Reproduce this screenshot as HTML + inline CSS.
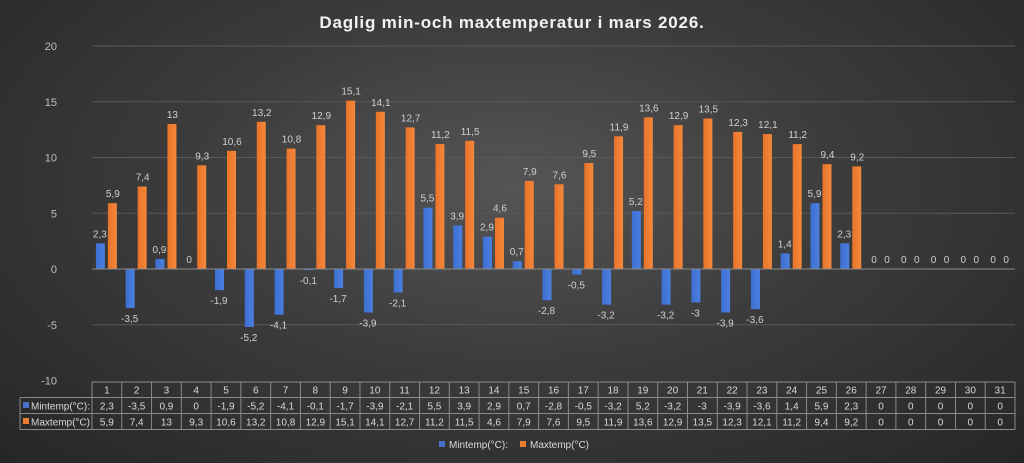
<!DOCTYPE html>
<html><head><meta charset="utf-8"><style>
html,body{margin:0;padding:0;width:1024px;height:463px;overflow:hidden}
body{background:radial-gradient(ellipse at 50% 40%,#555 0%,#3c3c3c 45%,#262626 100%);font-family:"Liberation Sans",sans-serif}
svg{position:absolute;left:0;top:0}
</style></head><body>
<svg id="s" width="1024" height="463" xmlns="http://www.w3.org/2000/svg"></svg>
<script>
const mn=[2.3,-3.5,0.9,0,-1.9,-5.2,-4.1,-0.1,-1.7,-3.9,-2.1,5.5,3.9,2.9,0.7,-2.8,-0.5,-3.2,5.2,-3.2,-3,-3.9,-3.6,1.4,5.9,2.3,0,0,0,0,0];
const mx=[5.9,7.4,13,9.3,10.6,13.2,10.8,12.9,15.1,14.1,12.7,11.2,11.5,4.6,7.9,7.6,9.5,11.9,13.6,12.9,13.5,12.3,12.1,11.2,9.4,9.2,0,0,0,0,0];
const f=v=>String(v).replace('.',',');
const x0=92,x1=1015,cw=(x1-x0)/31,y0=269,k=11.15;
const Y=v=>y0-v*k;
let h='<defs><linearGradient id="b" x1="0" x2="1"><stop offset="0" stop-color="#3d6fd0"/><stop offset="1" stop-color="#4a7fe0"/></linearGradient><linearGradient id="o" x1="0" x2="1"><stop offset="0" stop-color="#e8732a"/><stop offset="1" stop-color="#f5883a"/></linearGradient></defs>';
h+='<text x="512" y="28" text-anchor="middle" fill="#f2f2f2" font-size="17" font-weight="bold" letter-spacing="0.8">Daglig min-och maxtemperatur i mars 2026.</text>';
for(let v=-10;v<=20;v+=5){const y=Y(v);
 if(v!=0&&v!=-10)h+=`<line x1="${x0}" x2="${x1}" y1="${y}" y2="${y}" stroke="#595959" stroke-width="1"/>`;
 h+=`<text x="57" y="${y+4}" text-anchor="end" fill="#bfbfbf" font-size="11">${v}</text>`;}
for(let i=0;i<31;i++){const c=x0+cw*(i+0.5);
 const a=mn[i],b=mx[i];
 if(a!=0){h+=`<rect x="${c-11}" y="${Math.min(Y(a),y0)}" width="9" height="${Math.abs(a)*k}" fill="url(#b)"/>`;}
 if(b!=0){h+=`<rect x="${c+1}" y="${Y(b)}" width="9" height="${b*k}" fill="url(#o)"/>`;}
 const ly=a>=0?Y(a)-6:Y(a)+14; h+=`<text x="${c-7}" y="${ly}" text-anchor="middle" fill="#d0d0d0" font-size="10">${f(a)}</text>`;
 const lo=b>0?Y(b)-6:Y(0)-6; h+=`<text x="${c+6}" y="${lo}" text-anchor="middle" fill="#d0d0d0" font-size="10">${f(b)}</text>`;}
h+=`<line x1="${x0}" x2="${x1}" y1="${y0}" y2="${y0}" stroke="#8c8c8c" stroke-width="1"/>`;
// table
const ty=[382,397.5,413.5,429.5];
const st='stroke="#8a8a8a" stroke-width="1" fill="none"';
h+=`<line x1="${x0}" x2="${x1}" y1="${ty[0]}" y2="${ty[0]}" ${st}/>`;
h+=`<line x1="20" x2="${x1}" y1="${ty[1]}" y2="${ty[1]}" ${st}/>`;
h+=`<line x1="20" x2="${x1}" y1="${ty[2]}" y2="${ty[2]}" ${st}/>`;
h+=`<line x1="20" x2="${x1}" y1="${ty[3]}" y2="${ty[3]}" ${st}/>`;
h+=`<line x1="20" x2="20" y1="${ty[1]}" y2="${ty[3]}" ${st}/>`;
for(let i=0;i<=31;i++){const x=x0+cw*i;h+=`<line x1="${x}" x2="${x}" y1="${ty[0]}" y2="${ty[3]}" ${st}/>`;}
for(let i=0;i<31;i++){const c=x0+cw*(i+0.5);
 h+=`<text x="${c}" y="393.5" text-anchor="middle" fill="#d9d9d9" font-size="10">${i+1}</text>`;
 h+=`<text x="${c}" y="409.5" text-anchor="middle" fill="#d9d9d9" font-size="10">${f(mn[i])}</text>`;
 h+=`<text x="${c}" y="425.5" text-anchor="middle" fill="#d9d9d9" font-size="10">${f(mx[i])}</text>`;}
h+=`<rect x="23" y="402" width="6" height="6" fill="#4472c4"/><text x="31" y="409.5" fill="#d9d9d9" font-size="10">Mintemp(°C):</text>`;
h+=`<rect x="23" y="418" width="6" height="6" fill="#ed7d31"/><text x="31" y="425.5" fill="#d9d9d9" font-size="10">Maxtemp(°C)</text>`;
h+=`<rect x="439" y="441" width="6" height="6" fill="#4472c4"/><text x="449" y="448" fill="#d9d9d9" font-size="10">Mintemp(°C):</text>`;
h+=`<rect x="520" y="441" width="6" height="6" fill="#ed7d31"/><text x="530" y="448" fill="#d9d9d9" font-size="10">Maxtemp(°C)</text>`;
document.getElementById('s').innerHTML=h;
</script>
</body></html>
